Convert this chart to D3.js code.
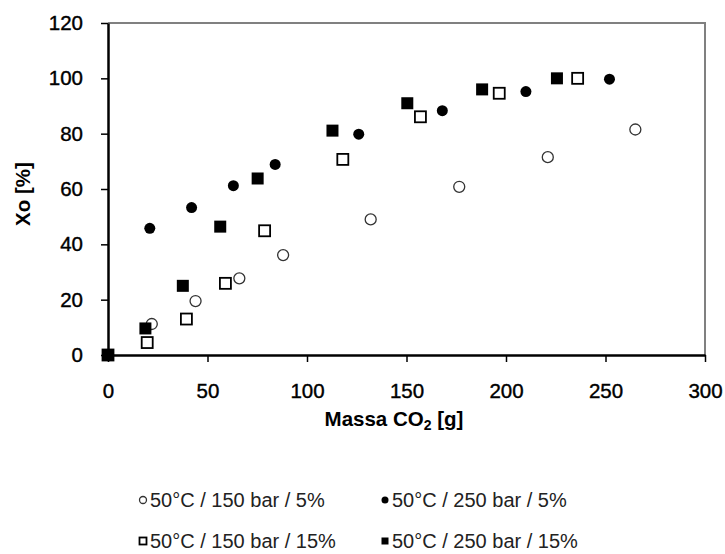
<!DOCTYPE html>
<html>
<head>
<meta charset="utf-8">
<script src="https://cdn.jsdelivr.net/npm/d3@7"></script>
<style>
  body { margin: 0; background: #fff; }
  svg { display: block; font-family: Arial, "Liberation Sans", sans-serif; }
  .tick text { font-size: 20.5px; fill: #000; stroke: #000; stroke-width: 0.4px; }
  .axis-title { font-size: 20.5px; font-weight: bold; fill: #000; }
  .legend text { font-size: 20px; fill: #222; }
</style>
</head>
<body>
<svg id="chart" width="725" height="554"></svg>
<script>
// Massa CO2 [g] per series
const xCircleOpen = [0, 22, 44, 66, 88, 132, 176.5, 221, 265];
const yCircleOpen = [0, 11.2, 19.5, 27.7, 36.1, 49, 60.8, 71.5, 81.5];
const xCircleFill = [0, 21, 42, 63, 84, 126, 168, 210, 252];
const yCircleFill = [0, 45.8, 53.3, 61.2, 68.9, 79.8, 88.3, 95.2, 99.7];
const xSquareOpen = [0, 19.7, 39.4, 59, 78.7, 118, 157, 196.6, 236];
const ySquareOpen = [0, 4.5, 13, 25.9, 44.9, 70.7, 86.1, 94.6, 100];
const xSquareFill = [0, 18.8, 37.6, 56.4, 75.2, 112.8, 150.4, 188, 225.6];
const ySquareFill = [0, 9.6, 25, 46.4, 63.8, 81.1, 91, 96, 100];

const seriesNames = ['50°C / 150 bar / 5%', '50°C / 250 bar / 5%',
                     '50°C / 150 bar / 15%', '50°C  / 250 bar / 15%'];
const xTicks = [0, 50, 100, 150, 200, 250, 300];
const yTicks = [0, 20, 40, 60, 80, 100, 120];

const series = [
  {name: seriesNames[0], shape: 'circle', filled: false, xs: xCircleOpen, ys: yCircleOpen},
  {name: seriesNames[1], shape: 'circle', filled: true,  xs: xCircleFill, ys: yCircleFill},
  {name: seriesNames[2], shape: 'square', filled: false, xs: xSquareOpen, ys: ySquareOpen},
  {name: seriesNames[3], shape: 'square', filled: true,  xs: xSquareFill, ys: ySquareFill}
];

const svg = d3.select('#chart');
const plotL = 108, plotR = 705, plotT = 23, plotB = 355;

const x = d3.scaleLinear().domain([0, 300]).range([plotL, plotR]);
const y = d3.scaleLinear().domain([0, 120]).range([plotB, plotT]);

// frame: grey top/right
svg.append('path')
   .attr('d', `M${plotL},${plotT}H${plotR}V${plotB}`)
   .attr('fill', 'none').attr('stroke', '#808080').attr('stroke-width', 2);

const xAxis = svg.append('g')
   .attr('transform', `translate(0,${plotB})`)
   .call(d3.axisBottom(x).tickValues(xTicks).tickSizeInner(7).tickSizeOuter(0).tickPadding(21));
const yAxis = svg.append('g')
   .attr('transform', `translate(${plotL},0)`)
   .call(d3.axisLeft(y).tickValues(yTicks).tickSizeInner(7).tickSizeOuter(0).tickPadding(18));

[xAxis, yAxis].forEach(a => {
  a.select('.domain').attr('stroke', '#000').attr('stroke-width', 2.5);
  a.selectAll('.tick line').attr('stroke', '#000').attr('stroke-width', 1.5);
  a.selectAll('.tick text').attr('font-family', null).attr('font-size', null);
});
xAxis.selectAll('.tick text').attr('dy', '0.71em');

// axis titles
const xt = svg.append('text').attr('class', 'axis-title')
   .attr('x', 394).attr('y', 426).attr('text-anchor', 'middle');
xt.append('tspan').text('Massa CO');
xt.append('tspan').attr('font-size', 14).attr('dy', 4).text('2');
xt.append('tspan').attr('dy', -4).text(' [g]');

svg.append('text').attr('class', 'axis-title')
   .attr('transform', `translate(30,194) rotate(-90)`)
   .attr('text-anchor', 'middle')
   .text('Xo [%]');

// markers
function drawMarker(g, s, size) {
  if (s.shape === 'circle') {
    g.append('circle').attr('r', size / 2)
     .attr('fill', s.filled ? '#000' : '#fff')
     .attr('stroke', s.filled ? 'none' : '#333').attr('stroke-width', 1.3);
  } else {
    g.append('rect').attr('x', -size / 2).attr('y', -size / 2)
     .attr('width', size).attr('height', size)
     .attr('fill', s.filled ? '#000' : '#fff')
     .attr('stroke', s.filled ? 'none' : '#000').attr('stroke-width', 1.8);
  }
}

series.forEach(s => {
  const pts = s.xs.map((v, i) => [v, s.ys[i]]);
  svg.append('g').selectAll('g').data(pts).join('g')
     .attr('transform', d => `translate(${x(d[0])},${y(d[1])})`)
     .each(function() {
       drawMarker(d3.select(this), s, s.shape === 'circle' ? 11 : (s.filled ? 12 : 11));
     });
});

// legend
const legPos = [[143, 500], [385, 500], [143, 541], [385, 541]];
const legend = svg.append('g').attr('class', 'legend');
series.forEach((s, i) => {
  const g = legend.append('g').attr('transform', `translate(${legPos[i][0]},${legPos[i][1]})`);
  drawMarker(g, s, 7);
  g.append('text').attr('x', 7).attr('y', 7).text(s.name);
});
</script>
</body>
</html>
